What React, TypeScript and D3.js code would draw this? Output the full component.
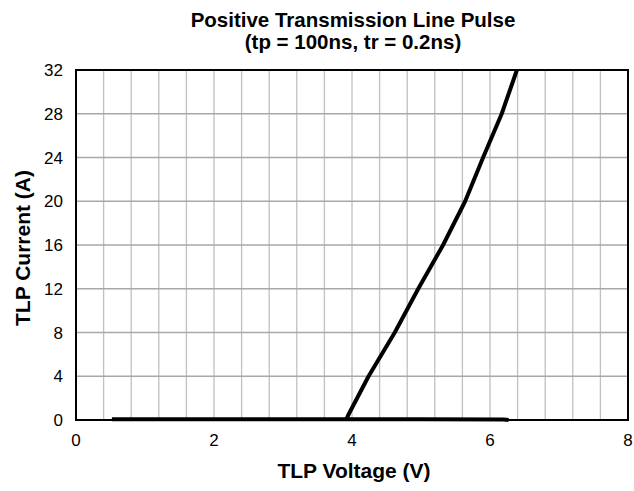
import React from "react";
import * as d3 from "d3";

const title1 = "Positive Transmission Line Pulse";
const title2 = "(tp = 100ns, tr = 0.2ns)";
const xLabel = "TLP Voltage (V)";
const yLabel = "TLP Current (A)";

const xTicks = [0, 2, 4, 6, 8];
const yTicks = [0, 4, 8, 12, 16, 20, 24, 28, 32];
const xGrid = d3.range(0, 8.0001, 0.4);

// Off-state leakage sweep (voltage V, current A)
const leakV = [0.52, 2.0, 3.9, 5.0, 6.2, 6.27];
const leakI = [0.08, 0.08, 0.08, 0.06, 0.05, 0.0];

// On-state (after snapback) curve
const onV = [3.92, 3.95, 4.24, 4.62, 4.96, 5.32, 5.64, 5.9, 6.17, 6.39];
const onI = [0.1, 0.5, 4, 8, 12, 16, 20, 24, 28, 32];

const W = 634;
const H = 491;
const M = { left: 76, right: 628, top: 70, bottom: 420 };

export default function App() {
  const x = d3.scaleLinear().domain([0, 8]).range([M.left, M.right]);
  const y = d3.scaleLinear().domain([0, 32]).range([M.bottom, M.top]);
  const line = d3
    .line<[number, number]>()
    .x((d) => x(d[0]))
    .y((d) => y(d[1]));
  const leak = leakV.map((v, i) => [v, leakI[i]] as [number, number]);
  const on = onV.map((v, i) => [v, onI[i]] as [number, number]);
  const font = "Arial, 'Liberation Sans', sans-serif";
  return (
    <svg
      width={W}
      height={H}
      style={{ position: "absolute", left: 0, top: 0, background: "#fff" }}
      fontFamily={font}
    >
      <rect width={W} height={H} fill="#fff" />
      {xGrid.map((v, i) => (
        <line
          key={"vx" + i}
          x1={x(v)}
          x2={x(v)}
          y1={M.top}
          y2={M.bottom}
          stroke="#c0c0c0"
          strokeWidth={1.3}
        />
      ))}
      {yTicks.map((v) => (
        <line
          key={"hy" + v}
          x1={M.left}
          x2={M.right}
          y1={y(v)}
          y2={y(v)}
          stroke="#a8a8a8"
          strokeWidth={1.3}
        />
      ))}
      <rect
        x={M.left}
        y={M.top}
        width={M.right - M.left}
        height={M.bottom - M.top}
        fill="none"
        stroke="#000"
        strokeWidth={2}
      />
      <path d={line(leak) || ""} fill="none" stroke="#000" strokeWidth={4} strokeLinejoin="round" />
      <path d={line(on) || ""} fill="none" stroke="#000" strokeWidth={4} strokeLinejoin="round" />
      {yTicks.map((v) => (
        <text
          key={"yt" + v}
          x={M.left - 13}
          y={y(v)}
          dy="0.36em"
          textAnchor="end"
          fontSize={17}
        >
          {v}
        </text>
      ))}
      {xTicks.map((v) => (
        <text
          key={"xt" + v}
          x={x(v)}
          y={M.bottom + 26}
          textAnchor="middle"
          fontSize={17}
        >
          {v}
        </text>
      ))}
      <text x={353} y={26.5} textAnchor="middle" fontSize={20.5} fontWeight="bold">
        {title1}
      </text>
      <text x={353} y={48.5} textAnchor="middle" fontSize={20.5} fontWeight="bold">
        {title2}
      </text>
      <text x={354} y={478} textAnchor="middle" fontSize={21} fontWeight="bold">
        {xLabel}
      </text>
      <text
        transform={`translate(29.5,${248}) rotate(-90)`}
        textAnchor="middle"
        fontSize={21}
        fontWeight="bold"
      >
        {yLabel}
      </text>
    </svg>
  );
}
